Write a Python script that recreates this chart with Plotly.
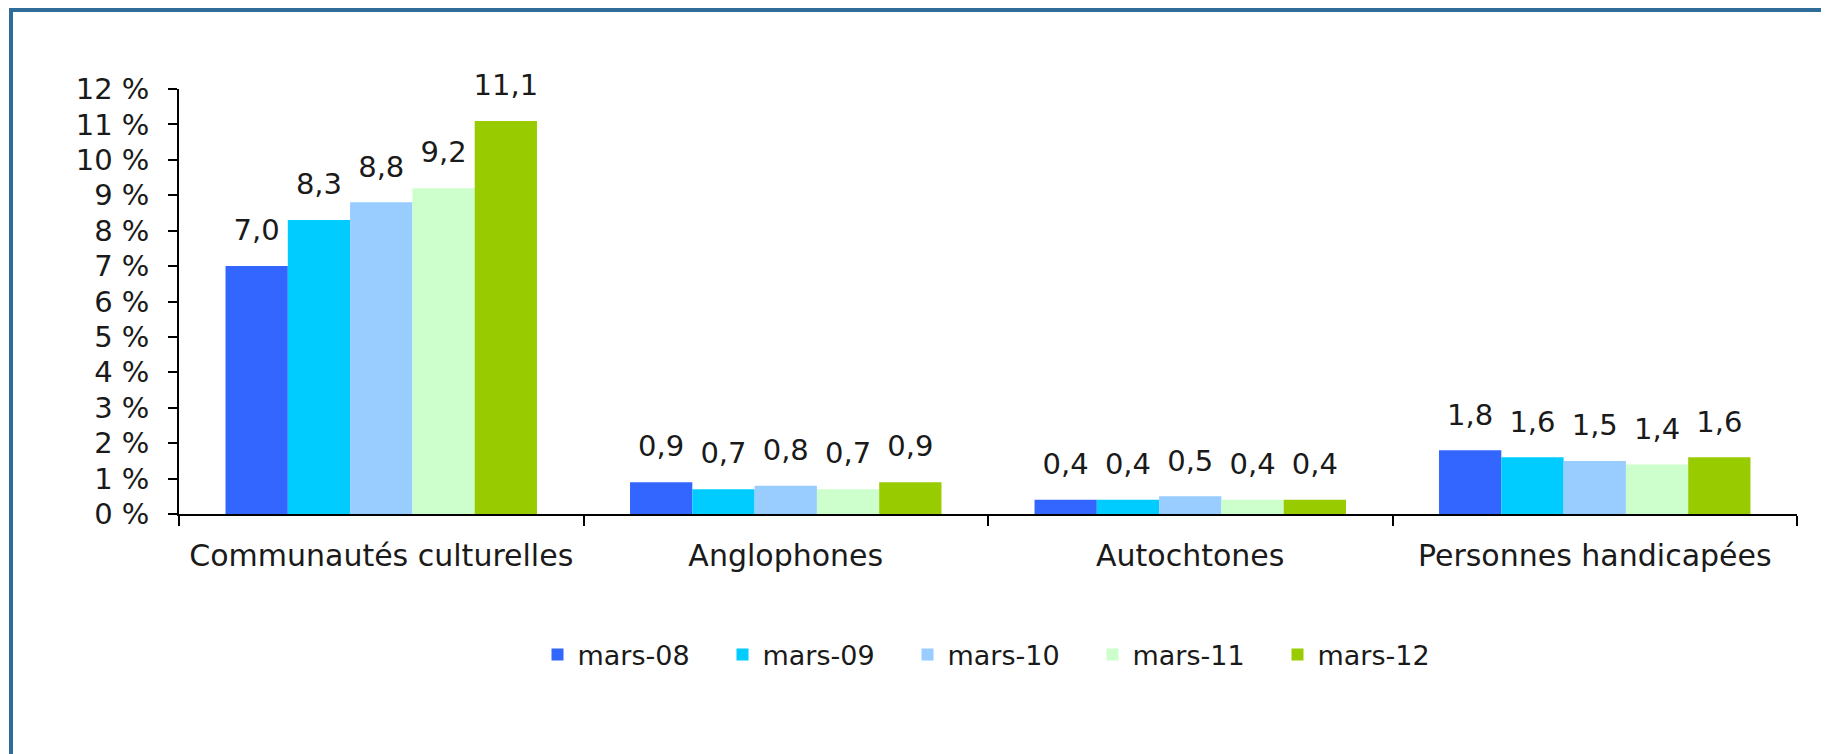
import plotly.graph_objects as go

categories = ["Communautés culturelles", "Anglophones", "Autochtones", "Personnes handicapées"]
series_names = ["mars-08", "mars-09", "mars-10", "mars-11", "mars-12"]
mars_08 = [7.0, 0.9, 0.4, 1.8]
mars_09 = [8.3, 0.7, 0.4, 1.6]
mars_10 = [8.8, 0.8, 0.5, 1.5]
mars_11 = [9.2, 0.7, 0.4, 1.4]
mars_12 = [11.1, 0.9, 0.4, 1.6]
series_values = [mars_08, mars_09, mars_10, mars_11, mars_12]
colors = ["#3366FF", "#00CCFF", "#99CCFF", "#CCFFCC", "#99CC00"]
y_ticks = list(range(0, 13))

# page body has an 8px margin: positions below are in figure pixels
W, H = 1829, 754
OFF = 8
ML, MT = 179 - OFF, 89 - OFF
MR = W - (1797 - OFF)
MB = H - (514 - OFF)
FONT = "DejaVu Sans"
TXT = "#1a1a1a"

fig = go.Figure()
for name, vals, col in zip(series_names, series_values, colors):
    fig.add_trace(go.Bar(
        name=name, x=categories, y=vals, marker=dict(color=col, line=dict(width=0)),
        offsetgroup=name,
    ))
for name, vals in zip(series_names, series_values):
    fig.add_trace(go.Scatter(
        x=categories, y=vals, mode="markers+text", offsetgroup=name,
        text=[f"{v:.1f}".replace(".", ",") for v in vals],
        textposition="top center",
        textfont=dict(family=FONT, size=29, color=TXT),
        marker=dict(size=28, opacity=0), showlegend=False, hoverinfo="skip",
        cliponaxis=False,
    ))

pw = W - ML - MR
ph = H - MT - MB
def px_x(p):
    return (p - ML) / pw
def px_y(p):
    return (H - MB - p) / ph

fig.add_shape(type="rect", xref="paper", yref="paper",
              x0=px_x(3), x1=px_x(1826), y0=px_y(800), y1=px_y(2),
              line=dict(color="#2f6c97", width=4), fillcolor="rgba(0,0,0,0)", layer="below")

fig.update_layout(
    width=W, height=H,
    margin=dict(l=ML, r=MR, t=MT, b=MB, pad=0),
    paper_bgcolor="white", plot_bgcolor="white",
    barmode="group", bargap=0.23, bargroupgap=0,
    scattermode="group", scattergap=0.23,
    font=dict(family=FONT, size=29, color=TXT),
    showlegend=True,
    legend=dict(orientation="h", x=0.5 + 12 / pw, xanchor="center", y=px_y(655 - OFF), yanchor="middle",
                font=dict(family=FONT, size=27, color=TXT),
                entrywidth=140, entrywidthmode="pixels", itemwidth=30,
                bgcolor="rgba(0,0,0,0)"),
    xaxis=dict(type="category", tickson="boundaries", ticks="outside", ticklen=10,
               tickcolor="black", tickwidth=1.5, showline=True, linecolor="black", linewidth=1.5,
               showgrid=False, tickfont=dict(family=FONT, size=30, color=TXT),
               ticklabelstandoff=14),
    yaxis=dict(range=[0, 12], tickvals=y_ticks, ticktext=[f"{t} %" for t in y_ticks],
               ticks="outside", ticklen=9, tickcolor="black", tickwidth=1.5,
               showline=True, linecolor="black", linewidth=1.5,
               showgrid=False, zeroline=False,
               tickfont=dict(family=FONT, size=29, color=TXT), ticklabelstandoff=13),
)

fig.write_html("out.html")
